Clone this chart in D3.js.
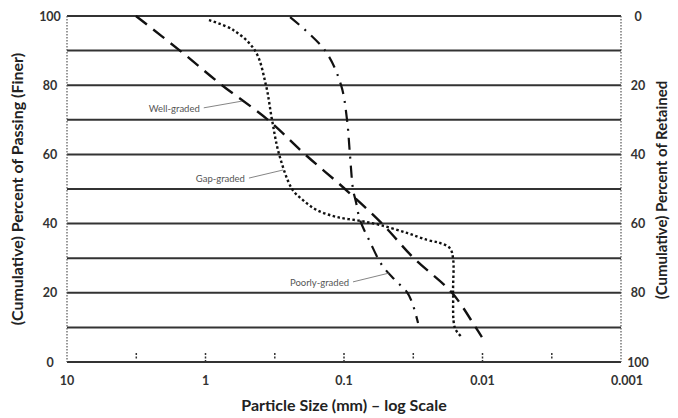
<!DOCTYPE html>
<html>
<head>
<meta charset="utf-8">
<script src="https://cdn.jsdelivr.net/npm/d3@7"></script>
<style>
  html, body { margin: 0; padding: 0; background: #fff; }
  svg { display: block; font-family: Lato, "Open Sans", sans-serif; }
</style>
</head>
<body>
<svg id="chart" width="678" height="418"></svg>
<script>
// ---- data ----
const xTickLabels = [10, 1, 0.1, 0.01, 0.001];
const xMinorTicks = [3.16, 0.316, 0.0316, 0.00316];
const yTickLeft = [0, 20, 40, 60, 80, 100];
const yTickRight = [0, 20, 40, 60, 80, 100];
const gridValues = [0, 10, 20, 30, 40, 50, 60, 70, 80, 90, 100];

const wellSize = [3.18, 1.53, 0.76, 0.354, 0.191, 0.0984, 0.0532, 0.0313, 0.0166, 0.0112, 0.0101];
const wellPass = [100, 90, 80, 70, 60, 50, 40, 30, 20, 10, 7.2];

const gapSize = [0.944, 0.633, 0.439, 0.366, 0.331, 0.294, 0.237, 0.198, 0.157, 0.1125, 0.0766, 0.055, 0.0351, 0.0252, 0.0203, 0.0172, 0.0163, 0.0163, 0.0158, 0.0141];
const gapPass = [98.8, 96, 90, 80, 70, 60, 50, 46.8, 43.9, 41.9, 40.8, 39.6, 37.3, 35.3, 34.4, 32.9, 29.8, 19.9, 9.8, 7.2];

const poorSize = [0.245, 0.137, 0.105, 0.0951, 0.0906, 0.0861, 0.0819, 0.0766, 0.0649, 0.0532, 0.0428, 0.0351, 0.0323, 0.0292];
const poorPass = [99.7, 90, 80, 70, 60, 50, 46.2, 41, 34.7, 28, 23.7, 20.2, 17.3, 11.3];

const labels = [
  { text: "Well-graded", size: 1.1, pass: 72.3, to: [0.545, 75.4] },
  { text: "Gap-graded", size: 0.519, pass: 52, to: [0.275, 55.5] },
  { text: "Poorly-graded", size: 0.092, pass: 22, to: [0.0473, 25.7] }
];

// ---- layout ----
const svg = d3.select("#chart");
const x = d3.scaleLog().domain([10, 0.001]).range([67, 621]);
const y = d3.scaleLinear().domain([0, 100]).range([362, 16]);
const yR = d3.scaleLinear().domain([0, 100]).range([16, 362]);

// gridlines
svg.append("g").selectAll("line").data(gridValues).join("line")
  .attr("x1", x(10)).attr("x2", x(0.001))
  .attr("y1", d => y(d)).attr("y2", d => y(d))
  .attr("stroke", "#333").attr("stroke-width", 2);

// dotted side borders
[10, 0.001].forEach(v => {
  svg.append("line")
    .attr("x1", x(v)).attr("x2", x(v)).attr("y1", y(100)).attr("y2", y(0))
    .attr("stroke", "#555").attr("stroke-width", 1.2).attr("stroke-dasharray", "1.5,1.5");
});

// minor x ticks (dotted)
svg.append("g").selectAll("line").data(xTickLabels.slice(1, 4)).join("line")
  .attr("x1", d => x(d)).attr("x2", d => x(d)).attr("y1", 353).attr("y2", 361)
  .attr("stroke", "#333").attr("stroke-width", 1.5).attr("stroke-dasharray", "2,1.5");
svg.append("g").selectAll("line").data(xMinorTicks).join("line")
  .attr("x1", d => x(d)).attr("x2", d => x(d)).attr("y1", 353).attr("y2", 359)
  .attr("stroke", "#333").attr("stroke-width", 1.5).attr("stroke-dasharray", "2,1.5");

// x tick labels
svg.append("g").selectAll("text").data(xTickLabels).join("text")
  .attr("x", (d, i) => x(d) + (i === xTickLabels.length - 1 ? 6 : 0)).attr("y", 385)
  .attr("text-anchor", "middle").attr("font-size", 12.5).attr("font-weight", "bold")
  .attr("fill", "#333")
  .text(d => String(d));

// left y labels
svg.append("g").selectAll("text").data(yTickLeft).join("text")
  .attr("x", 50).attr("y", d => y(d) + 4.5)
  .attr("text-anchor", "middle").attr("font-size", 12.5).attr("font-weight", "bold")
  .attr("fill", "#333")
  .text(d => d);

// right y labels
svg.append("g").selectAll("text").data(yTickRight).join("text")
  .attr("x", 638).attr("y", d => yR(d) + 4.5)
  .attr("text-anchor", "middle").attr("font-size", 12.5).attr("font-weight", "bold")
  .attr("fill", "#333")
  .text(d => d);

// axis titles
svg.append("text")
  .attr("transform", "translate(23,189) rotate(-90)")
  .attr("text-anchor", "middle").attr("font-size", 16).attr("font-weight", "bold")
  .attr("fill", "#222")
  .text("(Cumulative) Percent of Passing (Finer)");
svg.append("text")
  .attr("transform", "translate(667,190) rotate(-90)")
  .attr("text-anchor", "middle").attr("font-size", 15).attr("font-weight", "bold")
  .attr("fill", "#222")
  .text("(Cumulative) Percent of Retained");
svg.append("text")
  .attr("x", 344).attr("y", 411)
  .attr("text-anchor", "middle").attr("font-size", 16).attr("font-weight", "bold")
  .attr("fill", "#222")
  .text("Particle Size (mm) \u2013 log Scale");

// curves
const line = d3.line().x(d => x(d[0])).y(d => y(d[1])).curve(d3.curveCatmullRom.alpha(0.5));
function series(sz, ps) { return sz.map((s, i) => [s, ps[i]]); }

svg.append("path").datum(series(wellSize, wellPass))
  .attr("d", line).attr("fill", "none").attr("stroke", "#111")
  .attr("stroke-width", 2.4).attr("stroke-dasharray", "14,8");
svg.append("path").datum(series(gapSize, gapPass))
  .attr("d", line).attr("fill", "none").attr("stroke", "#111")
  .attr("stroke-width", 2.4).attr("stroke-dasharray", "2.5,2.5");
svg.append("path").datum(series(poorSize, poorPass))
  .attr("d", line).attr("fill", "none").attr("stroke", "#111")
  .attr("stroke-width", 2.2).attr("stroke-dasharray", "12,7,2,7");

// annotation labels with leader lines
labels.forEach(l => {
  svg.append("text")
    .attr("x", x(l.size)).attr("y", y(l.pass))
    .attr("text-anchor", "end").attr("font-size", 9.5)
    .attr("fill", "#555").text(l.text);
  svg.append("line")
    .attr("x1", x(l.size) + 4).attr("y1", y(l.pass) - 4)
    .attr("x2", x(l.to[0])).attr("y2", y(l.to[1]))
    .attr("stroke", "#666").attr("stroke-width", 0.8);
});
</script>
</body>
</html>
